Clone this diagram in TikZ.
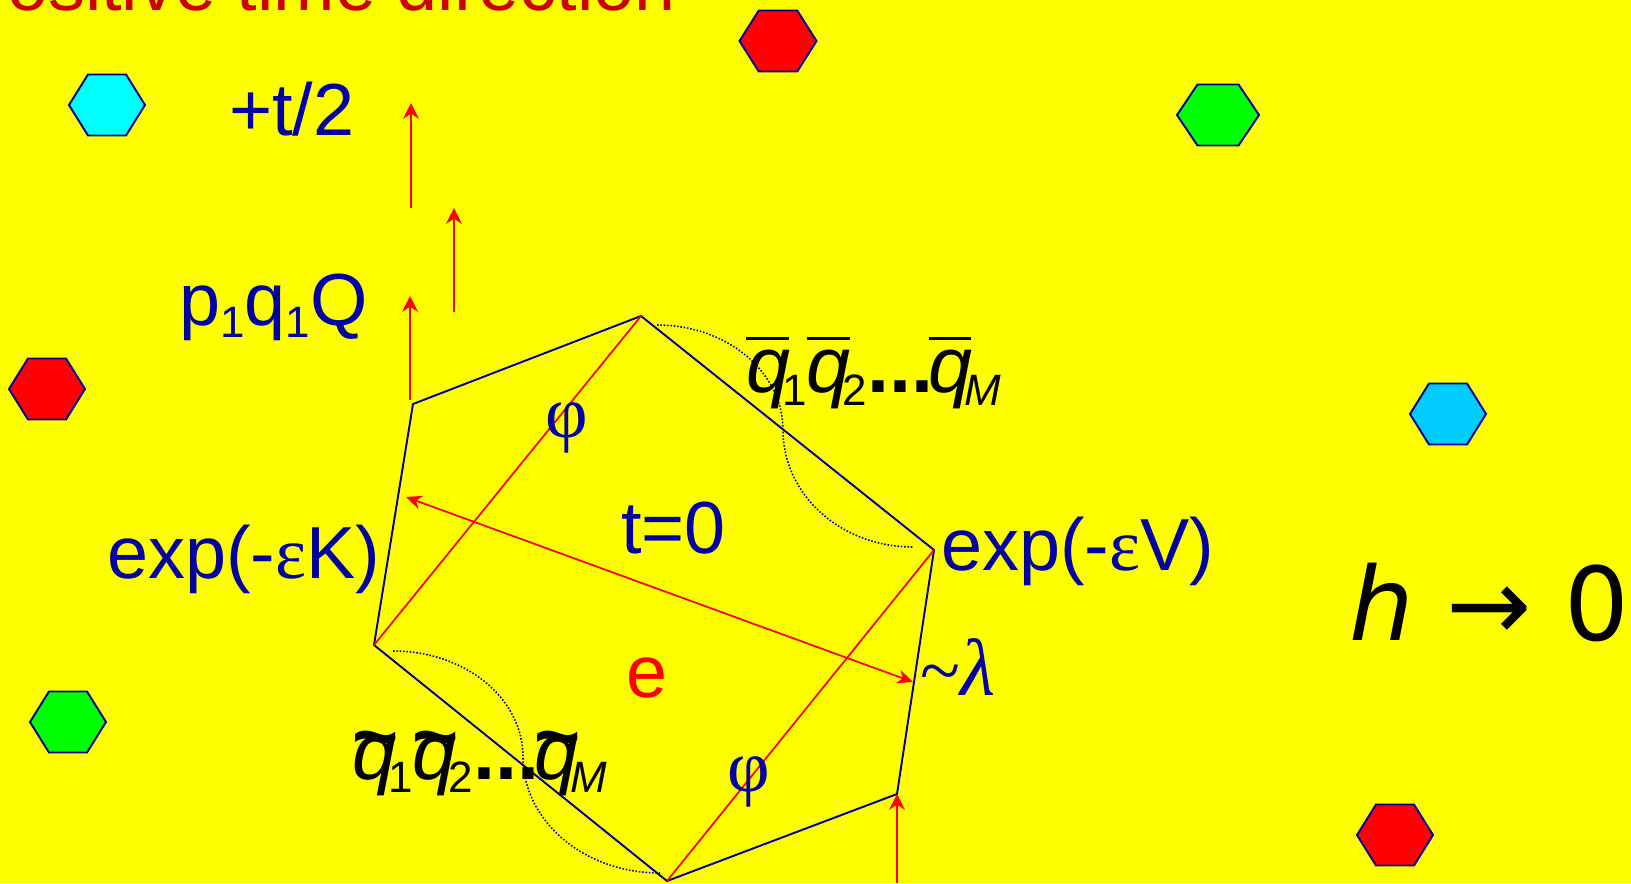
\documentclass[tikz,border=0pt]{standalone}
\usepackage{fontspec}
\setmainfont{Liberation Sans}
\newfontfamily\serifgreek{Liberation Serif}
\newfontfamily\dejavu{DejaVu Sans}
\usetikzlibrary{arrows.meta}

\definecolor{bgyellow}{RGB}{255,255,0}
\definecolor{navy}{RGB}{0,0,153}
\definecolor{textblue}{RGB}{0,0,160}
\definecolor{darkred}{RGB}{204,0,0}
\definecolor{pure red}{RGB}{255,0,0}
\definecolor{hexcyan}{RGB}{0,255,255}
\definecolor{hexgreen}{RGB}{0,255,0}
\definecolor{skyblue}{RGB}{0,204,255}

\newcommand{\lowsub}[1]{\raisebox{-0.17em}{\fontsize{25}{25}\selectfont #1}}
\newcommand{\qbar}[1]{\rlap{\rule[0.66em]{0.54em}{0.03em}}\textit{q}\kern-0.1em\lowsub{#1}}
\newcommand{\qtil}[1]{\rlap{\raisebox{0.2em}{\textbf{\textasciitilde}}}\textit{q}\kern-0.1em\lowsub{#1}}
\newcommand{\hexcell}[4]{%
  \begin{scope}[shift={(#1,#2)}]
    \draw[hexline, fill=#4] (-#3/2,0) -- (-#3/4,-30.5) -- (#3/4,-30.5) -- (#3/2,0) -- (#3/4,30.5) -- (-#3/4,30.5) -- cycle;
  \end{scope}}

\begin{document}
\begin{tikzpicture}[x=0.02cm, y=-0.02cm,
    lbl/.style={inner sep=0pt, text=textblue, font=\fontsize{42}{50}\selectfont},
    qlbl/.style={lbl, text=black, font=\fontsize{45}{52}\selectfont},
    greek/.style={lbl, font=\serifgreek\fontsize{42}{50}\selectfont},
    blueline/.style={draw=navy, line width=1.1pt, line join=round},
    redline/.style={draw=pure red, line width=1pt},
    redarrow/.style={redline, -{Stealth[length=9pt,width=9pt]}},
    dotarc/.style={draw=navy, densely dotted, line width=0.9pt},
    hexline/.style={draw=navy, line width=1.1pt}]

    % Background
    \fill[bgyellow] (0,0) rectangle (1631,883);
    \useasboundingbox (0,0) rectangle (1631,883);
    \clip (0,0) rectangle (1631,883);

    % Title, cut by the top edge
    \node[lbl, text=darkred, anchor=base east] (title) at (676,10) {Positive time direction};

    % Hexagon corners
    \coordinate (T) at (641,316);
    \coordinate (L1) at (413,404);
    \coordinate (L2) at (374,645);
    \coordinate (B) at (667,881);
    \coordinate (R2) at (897,794);
    \coordinate (R1) at (934,550);
    \draw[blueline] (T) -- (L1) -- (L2) -- (B) -- (R2) -- (R1) -- cycle;

    % phi lines
    \draw[redline] (L2) -- (T);
    \draw[redline] (B) -- (R1);

    % Dotted arcs
    \draw[dotarc] (657,325) .. controls (727,325) and (783,372) .. (783,430)
                  .. controls (783,495) and (841,547) .. (913,547);
    \draw[dotarc] (393,651) .. controls (465,651) and (523,698) .. (523,757)
                  .. controls (523,821) and (584,873) .. (660,873);

    % lambda arrow
    \coordinate (lamL) at (406,497);
    \coordinate (lamR) at (913,682);
    \draw[redline, {Stealth[length=9pt,width=8pt]}-{Stealth[length=9pt,width=8pt]}] (lamL) -- (lamR);

    % Time arrows
    \coordinate (a1) at (411,208); \coordinate (a1t) at (411,103);
    \coordinate (a2) at (454,312); \coordinate (a2t) at (454,208);
    \coordinate (a3) at (410,400); \coordinate (a3t) at (410,296);
    \coordinate (a4) at (897,883);
    \draw[redarrow] (a1) -- (a1t);
    \draw[redarrow] (a2) -- (a2t);
    \draw[redarrow] (a3) -- (a3t);
    \draw[redarrow] (a4) -- (R2);

    % Labels
    \node[lbl, anchor=base west] (half) at (229,135) {+t/2};
    \node[lbl, anchor=base west] (pqQ) at (179,325) {p\lowsub{1}q\lowsub{1}Q};
    \node[lbl, anchor=base west] (expK) at (107,578) {exp(-{\serifgreek ε}K)};
    \node[lbl, anchor=base west] (tzero) at (621,553) {t=0};
    \node[lbl, anchor=base west] (expV) at (941,570) {exp(-{\serifgreek ε}V)};
    \node[lbl, text=pure red, anchor=base] (e) at (647,697) {e};
    \node[greek] (phiA) at (567,428) {φ};
    \node[greek] (phiB) at (749,782) {φ};
    \node[greek, anchor=base west] (lam) at (920,695) {\textasciitilde{\fontsize{46}{50}\selectfont\textit{λ}}};
    \node[qlbl, anchor=base west] (qtop) at (746,392) {\qbar{1}\qbar{2}\textbf{...}\kern-0.06em\qbar{\textit{M}}};
    \node[qlbl, anchor=base west] (qbot) at (352,779) {\qtil{1}\qtil{2}\textbf{...}\kern-0.06em\qtil{\textit{M}}};
    \node[lbl, text=black, anchor=base west, font=\dejavu\fontsize{58}{66}\selectfont] (hlim) at (1349,640) {\textit{h} → 0};

    % Decorations
    \hexcell{107}{105}{76}{hexcyan}
    \hexcell{778}{41}{77}{pure red}
    \hexcell{1218}{115}{82}{hexgreen}
    \hexcell{47}{389}{76}{pure red}
    \hexcell{1448}{414}{76}{skyblue}
    \hexcell{68}{722}{76}{hexgreen}
    \hexcell{1395}{835}{76}{pure red}

\end{tikzpicture}
\end{document}
